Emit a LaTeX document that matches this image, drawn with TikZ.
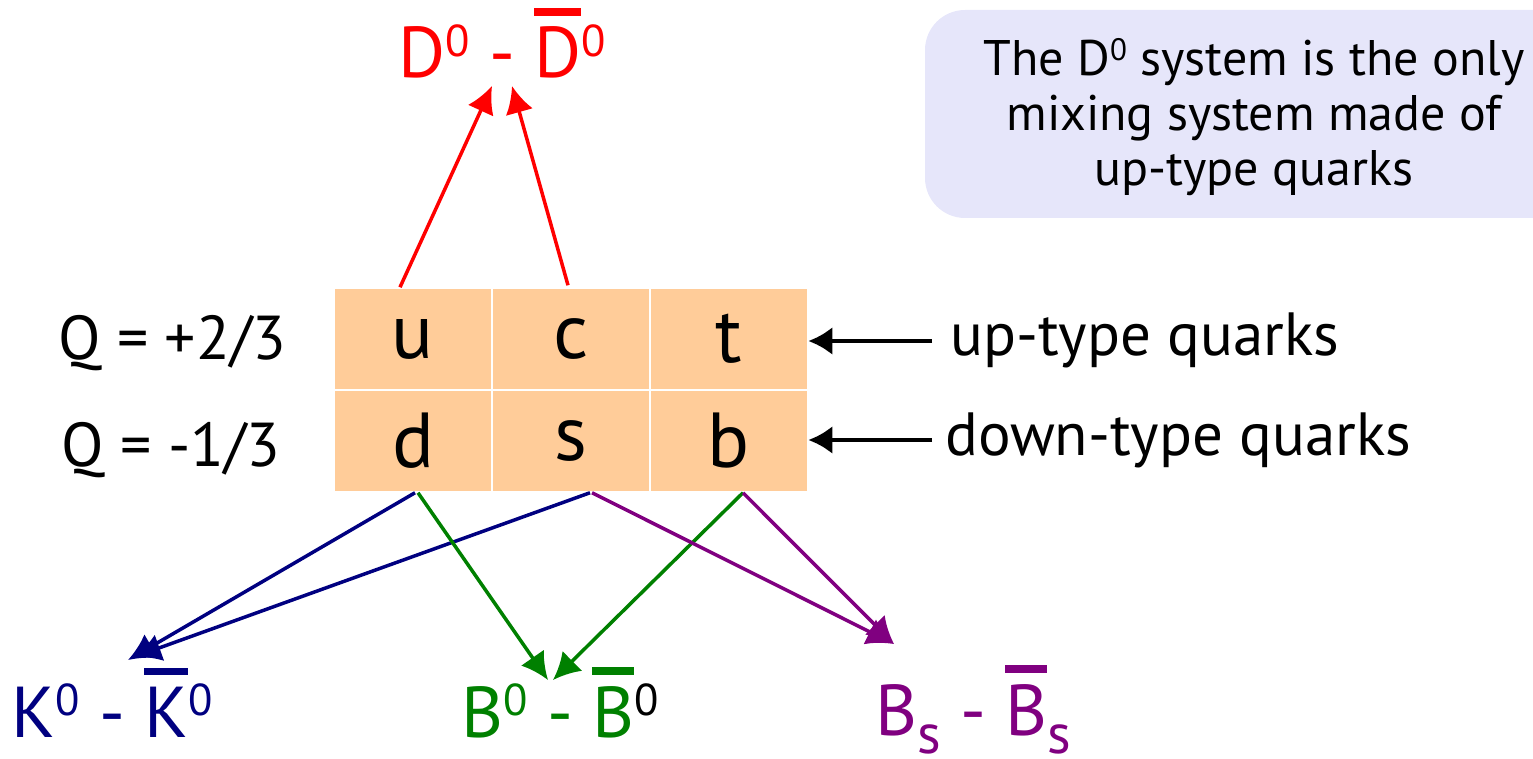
\documentclass[tikz,border=0pt]{standalone}
\usepackage{fontspec}
\setmainfont{PT Sans}
\usetikzlibrary{calc,arrows.meta}

\definecolor{cellfill}{HTML}{FFCC99}
\definecolor{notefill}{HTML}{E6E6FA}
\definecolor{kblue}{HTML}{000080}
\definecolor{bgreen}{HTML}{008000}
\definecolor{bspurple}{HTML}{800080}

\newcommand{\barred}[1]{\leavevmode\vbox{\hrule height 0.1em\kern 0.16em\hbox{#1}}}
\newcommand{\upnum}[1]{\raisebox{0.3em}{\scalebox{0.62}{#1}}}
\newcommand{\lowsub}[1]{\raisebox{-0.26em}{\scalebox{0.78}{#1}}}

\tikzset{
	cell/.style={fill=cellfill, draw=white, line width=1.5pt, minimum width=157pt,
		minimum height=102pt, inner sep=0pt, font=\fontsize{78}{78}\selectfont},
	mixlabel/.style={anchor=base, inner sep=0pt, font=\fontsize{72}{72}\selectfont},
	sidelabel/.style={anchor=west, inner sep=0pt, font=\fontsize{61}{61}\selectfont},
	mixarrow/.style={line width=3.5pt, -{Latex[length=27pt, width=28pt]}},
	sidearrow/.style={line width=4.5pt, -{Latex[length=24pt, width=28pt]}},
}

\begin{document}
\begin{tikzpicture}[x=1pt, y=-1pt]

	\useasboundingbox (0,0) rectangle (1533,759);

	% note box, cut by the right edge
	\fill[notefill, rounded corners=40pt] (925,10) rectangle (1580,218);
	\node[align=center, inner sep=0pt, font=\fontsize{50}{55}\selectfont]
		(note) at (1254,117) {The D\upnum{0} system is the only\\
		mixing system made of\\ up-type quarks};

	% quark table
	\node[cell] (u) at (413,339) {u};
	\node[cell] (c) at (571,339) {c};
	\node[cell] (t) at (729,339) {t};
	\node[cell] (d) at (413,441) {d};
	\node[cell] (s) at (571,441) {s};
	\node[cell] (b) at (729,441) {b};

	\node[font=\fontsize{62}{62}\selectfont] (qup) at (172,343) {Q = +2/3};
	\node[font=\fontsize{62}{62}\selectfont] (qdown) at (171,450) {Q = -1/3};

	\node[sidelabel] (uptype) at (950,340) {up-type quarks};
	\node[sidelabel] (downtype) at (945,440) {down-type quarks};

	\draw[sidearrow] ($(uptype.west)+(-18,1)$) -- (t.east |- 0,341);
	\draw[sidearrow] ($(downtype.west)+(-13,0)$) -- (b.east |- 0,440);

	% mixing systems
	\node[mixlabel, text=red] (dmix) at (502,78)
		{D\upnum{0} - \barred{D}\upnum{0}};
	\node[mixlabel, text=kblue] (kmix) at (112,737)
		{K\upnum{0} - \barred{K}\upnum{0}};
	\node[mixlabel, text=bgreen] (bmix) at (560,737)
		{B\upnum{0} - \barred{B}\upnum{\color{black}0}};
	\node[mixlabel, text=bspurple] (bsmix) at (973,735)
		{B\lowsub{s} - \barred{B}\lowsub{s}};

	\coordinate (dtipa) at (492,86);
	\coordinate (dtipb) at (512,86);
	\coordinate (ktip) at (128,660);
	\coordinate (btip) at (550,680);
	\coordinate (bstip) at (894,644);

	\draw[mixarrow, red] ($(u.north)+(-13,0)$) -- (dtipa);
	\draw[mixarrow, red] ($(c.north)+(-3,-2)$) -- (dtipb);

	\draw[mixarrow, kblue] ($(d.south)+(2,0)$) -- (ktip);
	\draw[mixarrow, kblue] ($(s.south)+(19,0)$) -- ($(ktip)+(6,-3)$);

	\draw[mixarrow, bgreen] ($(d.south)+(5,0)$) -- ($(btip)+(-2,0)$);
	\draw[mixarrow, bgreen] ($(b.south)+(14,0)$) -- ($(btip)+(3,0)$);

	\draw[mixarrow, bspurple] ($(s.south)+(21,0)$) -- (bstip);
	\draw[mixarrow, bspurple] ($(b.south)+(14,0)$) -- (bstip);

\end{tikzpicture}
\end{document}
